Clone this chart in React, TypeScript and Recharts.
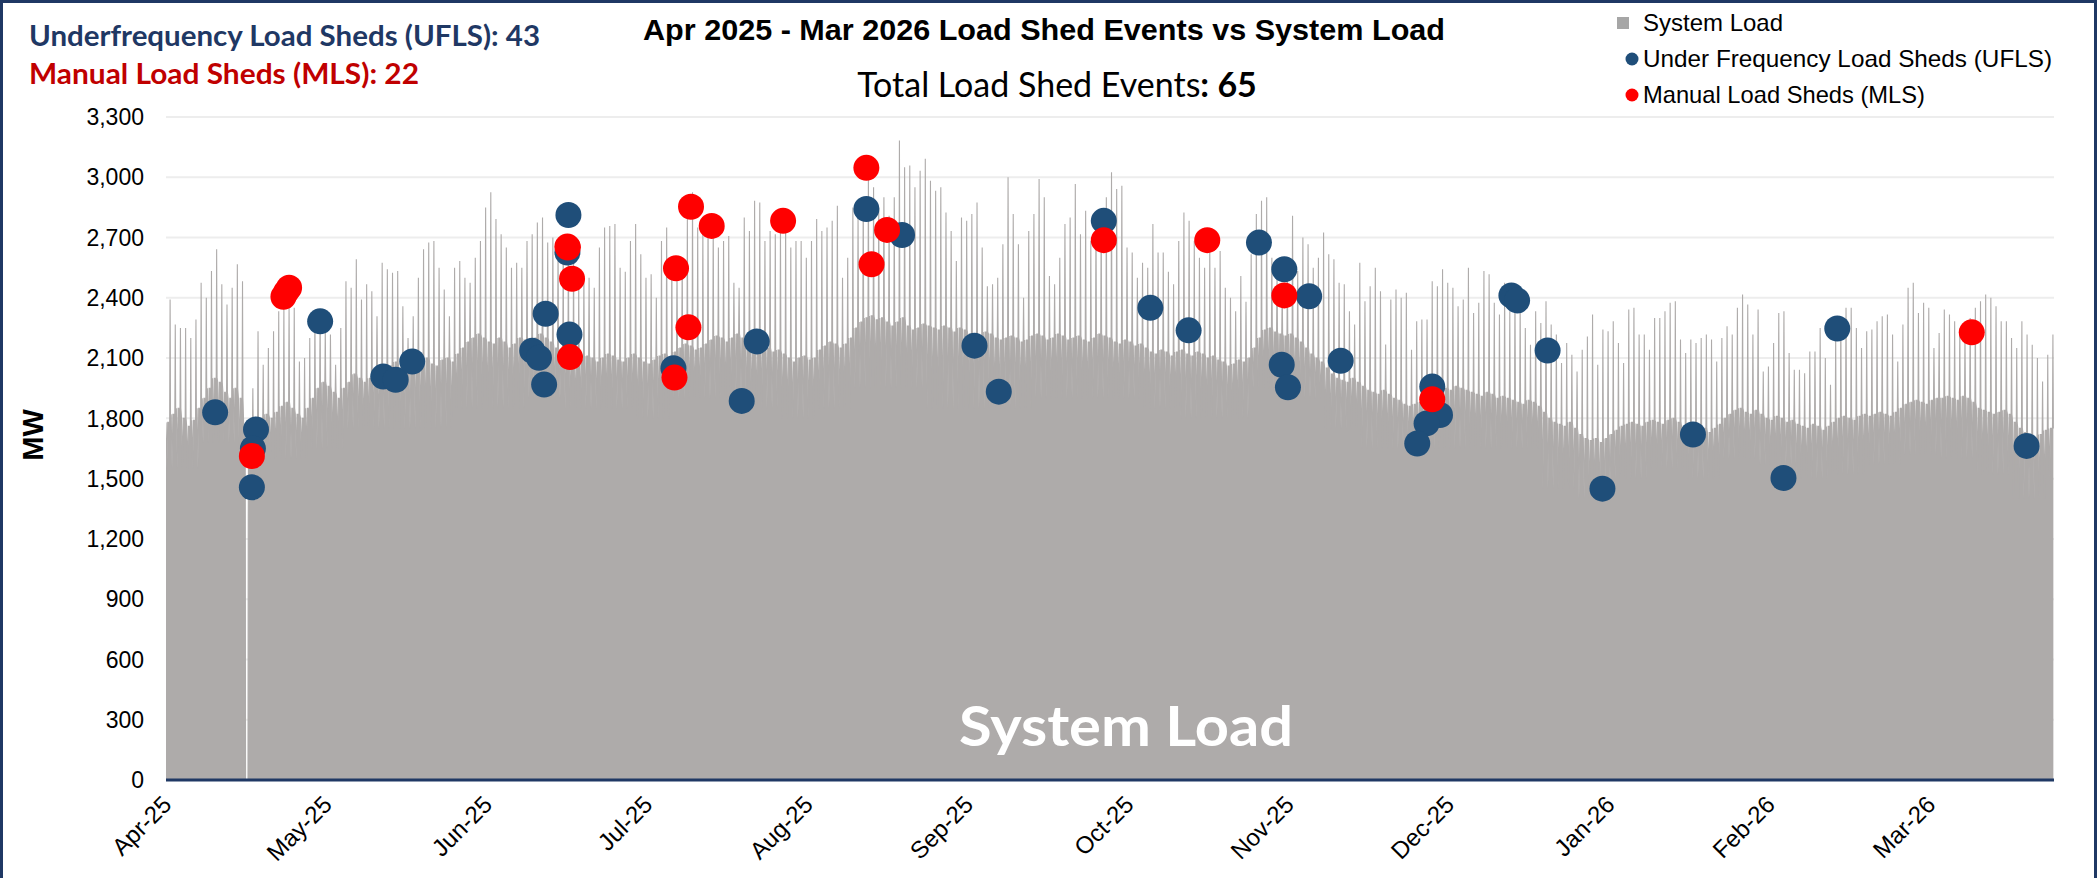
import React from 'react';
import { ComposedChart, Area, Scatter, XAxis, YAxis, CartesianGrid } from 'recharts';

const W = 2097;
const H = 878;

// x axis is day-of-year from 1 Apr 2025, labels every 31 days (Excel category axis)
const tickDays = [0, 31, 62, 93, 124, 155, 186, 217, 248, 279, 310, 341];
const tickLabels = ['Apr-25', 'May-25', 'Jun-25', 'Jul-25', 'Aug-25', 'Sep-25', 'Oct-25', 'Nov-25', 'Dec-25', 'Jan-26', 'Feb-26', 'Mar-26'];
const yTicks = [0, 300, 600, 900, 1200, 1500, 1800, 2100, 2400, 2700, 3000, 3300];

// daily peak load (MW), day 0 = 1 Apr 2025
const dailyPeak = [
  // Apr
  2392, 2267, 2250, 2250, 2200, 2292, 2475, 2400, 2533, 2642, 2467, 2367, 2450, 2567, 2483,
  1750, 1950, 2233, 2067, 2150, 2233, 2333, 2350, 2358, 2350, 2083, 2100, 2200, 2300, 2300,
  // May
  2250, 2217, 2067, 2250, 2483, 2450, 2592, 2392, 2467, 2433, 2308, 2575, 2542, 2525, 2533,
  2358, 2200, 2308, 2500, 2642, 2675, 2683, 2550, 2442, 2308, 2550, 2583, 2500, 2475, 2600, 2683,
  // Jun
  2850, 2925, 2792, 2717, 2650, 2550, 2575, 2550, 2683, 2717, 2775, 2800, 2675,
  2700, 2650, 2675, 2700, 2600, 2450, 2500, 2500, 2450, 2650, 2750, 2758, 2767, 2550, 2530, 2683, 2767,
  // Jul
  2617, 2500, 2517, 2400, 2683, 2750, 2600, 2550, 2600, 2792, 2925, 2750, 2733, 2792, 2758,
  2650, 2683, 2708, 2475, 2450, 2800, 2733, 2883, 2875, 2683, 2733, 2717, 2758, 2800, 2650, 2683,
  // Aug
  2683, 2600, 2683, 2792, 2733, 2750, 2783, 2858, 2500, 2600, 2850, 2800, 2900, 3000, 2950,
  2850, 2900, 2808, 2900, 3183, 3050, 3058, 2950, 3033, 3092, 2983, 2933, 2950, 2825, 2733, 2583,
  // Sep
  2800, 2783, 2817, 2875, 2650, 2458, 2467, 2500, 2667, 3000, 2817, 2667, 2400, 2733, 2817,
  2992, 2900, 2508, 2467, 2600, 2767, 2800, 2967, 2717, 2833, 2683, 2750, 2800, 2900, 3025,
  // Oct
  2942, 2958, 2650, 2625, 2500, 2575, 2550, 2767, 2625, 2625, 2530, 2467, 2683, 2825, 2783,
  2683, 2600, 2550, 2650, 2550, 2633, 2450, 2400, 2333, 2508, 2380, 2617, 2817, 2883, 2900, 2600,
  // Nov
  2500, 2450, 2550, 2808, 2533, 2700, 2667, 2550, 2600, 2725, 2617, 2592, 2475, 2467, 2333,
  2267, 2575, 2383, 2458, 2550, 2433, 2167, 2392, 2442, 2400, 2425, 2142, 2283, 2292, 2292,
  // Dec
  2483, 2458, 2542, 2475, 2450, 2358, 2392, 2550, 2325, 2375, 2533, 2517, 2375, 2317, 2475,
  2333, 2400, 2367, 2250, 2167, 2333, 2275, 2383, 2267, 2217, 2075, 2175, 2117, 2033, 2142, 2208,
  // Jan
  2317, 2067, 2242, 2233, 2283, 2175, 2075, 2342, 2350, 2217, 2217, 2142, 2300, 2300, 2333,
  2375, 2383, 2192, 2125, 2192, 2175, 2200, 2217, 2192, 2083, 2200, 2258, 2217, 2350, 2417, 2367,
  // Feb
  2217, 2342, 2033, 2058, 2175, 2325, 2333, 2125, 2042, 2042, 2025, 2133, 2133, 2250,
  2100, 1967, 2217, 2300, 2350, 2350, 2250, 2150, 2233, 2242, 2283, 2308, 2317, 2217,
  // Mar
  2083, 2267, 2450, 2475, 2325, 2375, 2350, 2150, 2225, 2342, 2317, 2283, 2250, 2200, 2300,
  2350, 2383, 2417, 2400, 2358, 2283, 2283, 2200, 2150, 2283, 2217, 2167, 2100, 1983, 2117, 2217,
];

// typical daytime level (MW), one per day, 7 per row
const dailyBase = [
  1780, 1820, 1850, 1800, 1760, 1790, 1850,
  1900, 1950, 2000, 1980, 1930, 1900, 1950,
  1900, 1800, 1700, 1750, 1800, 1820, 1800,
  1830, 1860, 1880, 1850, 1820, 1800, 1850,
  1900, 1950, 1980, 1960, 1930, 1900, 1950,
  1980, 2020, 2000, 1980, 2000, 2030, 2010,
  2030, 2060, 2080, 2050, 2020, 2040, 2070,
  2080, 2100, 2070, 2060, 2090, 2100, 2080,
  2120, 2150, 2180, 2200, 2220, 2200, 2180,
  2170, 2200, 2180, 2150, 2170, 2200, 2190,
  2180, 2200, 2220, 2200, 2180, 2150, 2130,
  2120, 2100, 2080, 2090, 2110, 2100, 2080,
  2100, 2120, 2110, 2090, 2080, 2100, 2120,
  2100, 2080, 2070, 2090, 2110, 2120, 2100,
  2130, 2150, 2170, 2160, 2140, 2150, 2170,
  2190, 2210, 2200, 2180, 2200, 2220, 2200,
  2170, 2150, 2140, 2160, 2150, 2130, 2140,
  2120, 2100, 2080, 2100, 2110, 2090, 2100,
  2140, 2160, 2180, 2170, 2150, 2170, 2200,
  2250, 2280, 2300, 2310, 2290, 2300, 2280,
  2260, 2280, 2300, 2260, 2240, 2250, 2270,
  2260, 2250, 2240, 2260, 2250, 2230, 2250,
  2240, 2220, 2200, 2210, 2230, 2220, 2200,
  2190, 2200, 2210, 2200, 2180, 2190, 2210,
  2220, 2210, 2190, 2200, 2220, 2210, 2190,
  2200, 2210, 2190, 2180, 2200, 2220, 2210,
  2200, 2180, 2170, 2190, 2180, 2160, 2170,
  2150, 2130, 2120, 2140, 2130, 2110, 2130,
  2140, 2120, 2110, 2130, 2120, 2100, 2110,
  2090, 2080, 2060, 2070, 2090, 2080, 2100,
  2150, 2200, 2240, 2250, 2230, 2220, 2210,
  2220, 2200, 2180, 2150, 2120, 2100, 2080,
  2050, 2020, 2000, 1990, 1980, 2000, 1980,
  1960, 1940, 1930, 1920, 1940, 1920, 1900,
  1890, 1870, 1860, 1870, 1880, 1900, 1920,
  1940, 1960, 1950, 1940, 1960, 1950, 1940,
  1930, 1920, 1910, 1930, 1920, 1900, 1910,
  1900, 1890, 1880, 1870, 1890, 1880, 1860,
  1830, 1800, 1780, 1770, 1760, 1780, 1750,
  1720, 1700, 1690, 1700, 1680, 1700, 1720,
  1740, 1760, 1770, 1780, 1770, 1760, 1780,
  1790, 1780, 1770, 1790, 1800, 1780, 1760,
  1750, 1740, 1760, 1750, 1730, 1750, 1770,
  1800, 1820, 1840, 1850, 1830, 1820, 1840,
  1820, 1800, 1790, 1810, 1800, 1780, 1790,
  1770, 1760, 1750, 1770, 1760, 1740, 1760,
  1780, 1800, 1810, 1800, 1790, 1810, 1820,
  1810, 1820, 1830, 1820, 1810, 1830, 1850,
  1870, 1880, 1890, 1880, 1870, 1890, 1900,
  1900, 1910, 1900, 1890, 1910, 1900, 1880,
  1850, 1840, 1830, 1820, 1830, 1840, 1820,
  1780, 1750, 1730, 1720, 1700, 1720, 1740,
  1750,
];

// overnight low (MW), one per week
const weekTrough = [
  1550, 1680, 1600, 1600, 1650, 1750, 1750, 1750, 1850, 1850, 1900, 1850, 1850, 1800,
  1900, 1900, 1850, 1800, 1850, 1950, 1950, 1850, 1850, 1850, 1900, 1900, 1900, 1850,
  1800, 1800, 1950, 1900, 1750, 1650, 1650, 1650, 1650, 1650, 1450, 1400, 1500, 1550,
  1500, 1600, 1570, 1500, 1520, 1570, 1620, 1600, 1520, 1400, 1500,
];

// hour of day where each point of the daily profile sits
const profileHours = { b1: 0, low: 4, b2: 8, b3: 17, peak: 19, b4: 21 };

// 16 Apr blackout (load fell to zero)
const blackoutFrom = 15;
const blackoutTo = 16;
const blackout = [
  { t: 15.04, mw: 1750 },
  { t: 15.17, mw: 1500 },
  { t: 15.25, mw: 1750 },
  { t: 15.3, mw: 1750 },
  { t: 15.33, mw: 1300 },
  { t: 15.38, mw: 0 },
  { t: 15.85, mw: 0 },
  { t: 15.9, mw: 1300 },
  { t: 15.95, mw: 1600 },
];

// load shed events: t = day, mw = system load at event
const ufls = [
  { t: 9.5, mw: 1830 }, { t: 17.4, mw: 1745 }, { t: 16.8, mw: 1650 }, { t: 16.6, mw: 1457 },
  { t: 29.8, mw: 2283 }, { t: 42, mw: 2008 }, { t: 44.4, mw: 1992 }, { t: 47.6, mw: 2083 },
  { t: 70.8, mw: 2137 }, { t: 72.1, mw: 2102 }, { t: 73.4, mw: 2321 }, { t: 73.1, mw: 1968 },
  { t: 77.8, mw: 2812 }, { t: 77.6, mw: 2625 }, { t: 78, mw: 2217 }, { t: 98.1, mw: 2050 },
  { t: 111.3, mw: 1887 }, { t: 114.2, mw: 2183 }, { t: 135.4, mw: 2842 }, { t: 142.3, mw: 2713 },
  { t: 156.3, mw: 2162 }, { t: 161, mw: 1933 }, { t: 181.3, mw: 2783 }, { t: 190.3, mw: 2350 },
  { t: 197.7, mw: 2238 }, { t: 211.3, mw: 2675 }, { t: 216.2, mw: 2542 }, { t: 215.7, mw: 2067 },
  { t: 216.9, mw: 1955 }, { t: 221, mw: 2408 }, { t: 227.1, mw: 2087 }, { t: 244.8, mw: 1958 },
  { t: 246.3, mw: 1817 }, { t: 243.7, mw: 1775 }, { t: 241.9, mw: 1675 }, { t: 260.1, mw: 2412 },
  { t: 261.2, mw: 2387 }, { t: 267.1, mw: 2138 }, { t: 277.7, mw: 1450 }, { t: 295.2, mw: 1720 },
  { t: 312.7, mw: 1503 }, { t: 323.1, mw: 2247 }, { t: 359.7, mw: 1663 },
];
const mls = [
  { t: 16.6, mw: 1613 }, { t: 22.7, mw: 2405 }, { t: 23.2, mw: 2428 }, { t: 23.8, mw: 2450 },
  { t: 77.6, mw: 2655 }, { t: 77.7, mw: 2650 }, { t: 78.5, mw: 2495 }, { t: 78.1, mw: 2105 },
  { t: 98.6, mw: 2547 }, { t: 101.5, mw: 2853 }, { t: 105.5, mw: 2758 }, { t: 101, mw: 2253 },
  { t: 98.3, mw: 2003 }, { t: 119.3, mw: 2783 }, { t: 135.4, mw: 3047 }, { t: 139.4, mw: 2738 },
  { t: 136.4, mw: 2567 }, { t: 181.3, mw: 2687 }, { t: 201.3, mw: 2687 }, { t: 216.2, mw: 2412 },
  { t: 244.8, mw: 1895 }, { t: 349.1, mw: 2228 },
];

const loadData: { t: number; load: number }[] = [];
dailyPeak.forEach((peak, d) => {
  const base = dailyBase[d];
  const low = weekTrough[Math.floor(d / 7)];
  const pts = [
    { t: d + profileHours.b1 / 24, load: base },
    { t: d + profileHours.low / 24, load: low },
    { t: d + profileHours.b2 / 24, load: base },
    { t: d + profileHours.b3 / 24, load: base },
    { t: d + profileHours.peak / 24, load: peak },
    { t: d + profileHours.b4 / 24, load: base },
  ];
  pts.forEach((p) => {
    if (p.t < blackoutFrom || p.t >= blackoutTo) loadData.push(p);
  });
  if (d === blackoutFrom) blackout.forEach((p) => loadData.push({ t: p.t, load: p.mw }));
});
loadData.sort((a, b) => a.t - b.t);

const NAVY = '#1F3864';
const UFLS_BLUE = '#1F4E79';
const MLS_RED = '#FF0000';
const LOAD_GRAY = '#AEABAA';
const ARIAL = '"Liberation Sans", Arial, sans-serif';
const CALIBRI = 'Lato, "Open Sans", sans-serif';

const XTick = (props: any) => {
  const { x, y, payload } = props;
  const label = tickLabels[tickDays.indexOf(payload.value)];
  const ax = x + 7;
  const ay = y + 18;
  return (
    <text x={ax} y={ay} transform={`rotate(-45 ${ax} ${ay})`} textAnchor="end" fontSize={24} fontFamily={ARIAL} fill="#000">
      {label}
    </text>
  );
};

const dot = (color: string) => (p: any) => <circle cx={p.cx} cy={p.cy} r={13} fill={color} />;

export default function App() {
  return (
    <div style={{ position: 'absolute', left: 0, top: 0, width: W, height: H, background: '#fff', overflow: 'hidden' }}>
      <ComposedChart width={W} height={H} data={loadData} margin={{ top: 117, right: 43, bottom: 0, left: 16 }}>
        <CartesianGrid vertical={false} stroke="#EDEDED" strokeWidth={2} />
        <XAxis
          dataKey="t"
          type="number"
          domain={[0, 365]}
          ticks={tickDays}
          interval={0}
          allowDataOverflow
          height={98}
          tickLine={false}
          axisLine={{ stroke: NAVY, strokeWidth: 3 }}
          tick={<XTick />}
        />
        <YAxis
          type="number"
          domain={[0, 3300]}
          ticks={yTicks}
          width={150}
          tickLine={false}
          axisLine={false}
          tickMargin={16}
          tick={{ fontSize: 23, fill: '#000', fontFamily: ARIAL }}
          tickFormatter={(v: number) => v.toLocaleString('en-US')}
        />
        <Area
          type="linear"
          dataKey="load"
          stroke={LOAD_GRAY}
          strokeWidth={1.1}
          strokeLinejoin="miter"
          fill={LOAD_GRAY}
          fillOpacity={1}
          dot={false}
          activeDot={false}
          isAnimationActive={false}
        />
        <Scatter data={ufls} dataKey="mw" shape={dot(UFLS_BLUE)} isAnimationActive={false} />
        <Scatter data={mls} dataKey="mw" shape={dot(MLS_RED)} isAnimationActive={false} />
      </ComposedChart>

      <svg width={W} height={H} style={{ position: 'absolute', left: 0, top: 0, pointerEvents: 'none' }}>
        <rect x={1.5} y={1.5} width={W - 3} height={H + 20} fill="none" stroke={NAVY} strokeWidth={3} />

        <text x={29} y={46} fontFamily={CALIBRI} fontWeight={700} fontSize={29} fill={NAVY} textLength={511} lengthAdjust="spacingAndGlyphs">
          Underfrequency Load Sheds (UFLS): 43
        </text>
        <text x={29} y={84} fontFamily={CALIBRI} fontWeight={700} fontSize={29} fill="#C00000" textLength={390} lengthAdjust="spacingAndGlyphs">
          Manual Load Sheds (MLS): 22
        </text>

        <text x={1044} y={40} textAnchor="middle" fontFamily={ARIAL} fontWeight={700} fontSize={30} fill="#000" textLength={802} lengthAdjust="spacingAndGlyphs">
          Apr 2025 - Mar 2026 Load Shed Events vs System Load
        </text>
        <text x={1057} y={97} textAnchor="middle" fontFamily={CALIBRI} fontSize={34} fill="#000">
          Total Load Shed Events<tspan fontWeight={700}>: 65</tspan>
        </text>

        <rect x={1617} y={17} width={12} height={12} fill="#A6A6A6" />
        <text x={1643} y={31} fontFamily={ARIAL} fontSize={24} fill="#000" textLength={140} lengthAdjust="spacingAndGlyphs">System Load</text>
        <circle cx={1632} cy={59} r={6.5} fill={UFLS_BLUE} />
        <text x={1643} y={67} fontFamily={ARIAL} fontSize={24} fill="#000" textLength={409} lengthAdjust="spacingAndGlyphs">Under Frequency Load Sheds (UFLS)</text>
        <circle cx={1632} cy={95} r={6.5} fill={MLS_RED} />
        <text x={1643} y={103} fontFamily={ARIAL} fontSize={24} fill="#000" textLength={282} lengthAdjust="spacingAndGlyphs">Manual Load Sheds (MLS)</text>

        <text x={33} y={435} transform="rotate(-90 33 435)" textAnchor="middle" dominantBaseline="central" fontFamily={ARIAL} fontWeight={700} fontSize={29} fill="#000">
          MW
        </text>

        <text x={1126} y={746} textAnchor="middle" fontFamily={CALIBRI} fontWeight={700} fontSize={56} fill="#fff" textLength={334} lengthAdjust="spacingAndGlyphs">
          System Load
        </text>
      </svg>
    </div>
  );
}
